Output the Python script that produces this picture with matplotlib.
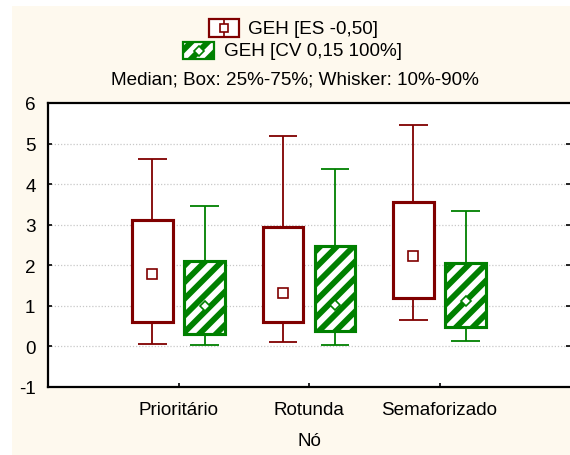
import matplotlib
matplotlib.use("Agg")
import matplotlib.pyplot as plt
from matplotlib.patches import Rectangle
import numpy as np

plt.rcParams['font.family'] = ['Liberation Sans', 'DejaVu Sans']
plt.rcParams['hatch.linewidth'] = 4.2

categories = ['Prioritário', 'Rotunda', 'Semaforizado']

# GEH [ES -0,50]
es_p10 = [0.07, 0.11, 0.66]
es_q1 = [0.61, 0.59, 1.20]
es_med = [1.79, 1.32, 2.24]
es_q3 = [3.12, 2.95, 3.55]
es_p90 = [4.62, 5.18, 5.46]

# GEH [CV 0,15 100%]
cv_p10 = [0.03, 0.03, 0.13]
cv_q1 = [0.31, 0.39, 0.49]
cv_med = [1.00, 1.02, 1.13]
cv_q3 = [2.11, 2.48, 2.05]
cv_p90 = [3.46, 4.37, 3.35]

y_ticks = [-1, 0, 1, 2, 3, 4, 5, 6]
series_labels = ['GEH [ES -0,50]', 'GEH [CV 0,15 100%]']
subtitle = 'Median; Box: 25%-75%; Whisker: 10%-90%'
x_title = 'Nó'

RED = '#800000'
GREEN = '#008000'
CREAM = '#FEF9EE'
FS = 13.6

W, H = 570, 456
fig = plt.figure(figsize=(W / 100, H / 100), dpi=100, facecolor='white')

# full-figure pixel axes for the background panel and the legend block
bg = fig.add_axes([0, 0, 1, 1], zorder=0)
bg.set_xlim(0, W)
bg.set_ylim(H, 0)
bg.axis('off')
bg.add_patch(Rectangle((12, 7), W - 12, H - 7, facecolor=CREAM, edgecolor='none'))

ax = fig.add_axes([48 / W, (H - 388) / H, (570 - 48) / W, 284 / H], zorder=1)
ax.set_facecolor('white')

x = np.arange(1, len(categories) + 1)
off = 0.2
bw = 0.31
cw = 0.22


def draw_boxes(xc, p10, q1, med, q3, p90, color, hatch, marker, ms):
    q1 = np.asarray(q1)
    q3 = np.asarray(q3)
    ax.vlines(xc, p10, q1, color=color, lw=1.3, zorder=3)
    ax.vlines(xc, q3, p90, color=color, lw=1.3, zorder=3)
    ax.hlines(p10, xc - cw / 2, xc + cw / 2, color=color, lw=1.3, zorder=3)
    ax.hlines(p90, xc - cw / 2, xc + cw / 2, color=color, lw=1.3, zorder=3)
    ax.bar(xc, q3 - q1, bottom=q1, width=bw, facecolor='white',
           edgecolor=color, linewidth=2.2, hatch=hatch, zorder=3)
    ax.bar(xc, q3 - q1, bottom=q1, width=bw, facecolor='none',
           edgecolor=color, linewidth=2.2, zorder=4)
    ax.plot(xc, med, linestyle='none', marker=marker, ms=ms, mfc='white',
            mec=color, mew=1.2, zorder=5)


draw_boxes(x - off, es_p10, es_q1, es_med, es_q3, es_p90, RED, None, 's', 6.5)
draw_boxes(x + off, cv_p10, cv_q1, cv_med, cv_q3, cv_p90, GREEN, '//', 'D', 5.5)

ax.set_xlim(0, 4)
ax.set_ylim(-1, 6)
ax.set_yticks(y_ticks)
ax.set_yticklabels([str(v) for v in y_ticks], fontsize=FS)
ax.set_xticks(x)
ax.set_xticklabels(categories, fontsize=FS)
ax.tick_params(axis='both', direction='in', length=3, width=1.2, colors='black',
               right=True, top=False)
ax.tick_params(axis='y', pad=9)
ax.tick_params(axis='x', pad=10)
for v in range(0, 6):
    ax.axhline(v, color='#c8c8c8', lw=0.9, ls=(0, (1, 1.5)), zorder=1)
for s in ax.spines.values():
    s.set_linewidth(1.6)
    s.set_color('black')
ax.spines['right'].set_visible(False)
ax.set_xlabel(x_title, fontsize=FS, labelpad=10)

# legend block
# red entry icon
bg.add_patch(Rectangle((209, 20), 30, 18, facecolor='white', edgecolor=RED, lw=1.6))
bg.plot([224, 224], [20, 38], color=RED, lw=1.2)
bg.plot([224], [29], marker='s', ms=6, mfc='white', mec=RED, mew=1.2, ls='none')
bg.text(248, 29.5, series_labels[0], fontsize=FS, ha='left', va='center')
# green entry icon
bg.add_patch(Rectangle((183, 43), 31, 17, facecolor='white', edgecolor=GREEN, lw=1.6,
                       hatch='//'))
bg.plot([198.5], [51.5], marker='D', ms=5, mfc='white', mec=GREEN, mew=1.2, ls='none')
bg.text(224, 52, series_labels[1], fontsize=FS, ha='left', va='center')
bg.text(295, 80, subtitle, fontsize=FS, ha='center', va='center')

fig.savefig('out.png', dpi=100, facecolor='white')
